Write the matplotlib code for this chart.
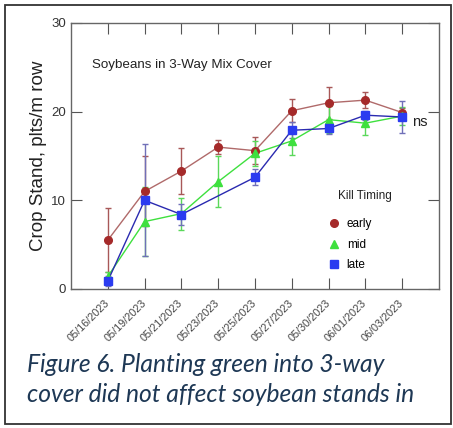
import matplotlib.pyplot as plt
import matplotlib.patches as mpatches
import numpy as np

dates = ["05/16/2023", "05/19/2023", "05/21/2023", "05/23/2023", "05/25/2023",
         "05/27/2023", "05/30/2023", "06/01/2023", "06/03/2023"]

early = [5.5, 11.0, 13.3, 16.0, 15.6, 20.1, 21.0, 21.3, 19.9]
early_err = [3.6, 3.95, 2.55, 0.8, 1.5, 1.3, 1.8, 0.9, 0.5]

mid = [1.4, 7.6, 8.5, 12.1, 15.3, 16.7, 19.1, 18.7, 19.5]
mid_err = [0.5, 3.9, 1.8, 2.9, 1.4, 1.6, 1.5, 1.3, 1.0]

# no late value plotted on 05/23
late = [0.9, 10.0, 8.4, np.nan, 12.6, 17.9, 18.1, 19.6, 19.4]
late_err = [0.6, 6.3, 1.15, np.nan, 0.9, 0.9, 0.6, 0.5, 1.8]

plt.rcParams['font.family'] = ['Liberation Sans', 'DejaVu Sans']

fig = plt.figure(figsize=(4.53, 4.28), dpi=100)
ax = fig.add_axes([0.1567, 0.3248, 0.8123, 0.6215])

x = np.arange(1, len(dates) + 1)

series = [
    ("early", early, early_err, "o", "#a52a2a", "#b06a6a", "#a85858", 5.5),
    ("mid", mid, mid_err, "^", "#3ee03e", "#3ee03e", "#5ad85a", 6),
    ("late", late, late_err, "s", "#2b3cf0", "#2a2ab0", "#7070b8", 6),
]

handles = []
for name, vals, errs, mk, mcol, lcol, ecol, ms in series:
    v = np.array(vals, dtype=float)
    e = np.array(errs, dtype=float)
    ok = ~np.isnan(v)
    ax.errorbar(x[ok], v[ok], yerr=e[ok], fmt="none", ecolor=ecol,
                elinewidth=1.0, capsize=2.5, capthick=1.0, zorder=2)
    ax.plot(x[ok], v[ok], color=lcol, lw=1.0, zorder=3)
    h, = ax.plot(x[ok], v[ok], ls="none", marker=mk, ms=ms, mfc=mcol,
                 mec=mcol, zorder=4, label=name)
    handles.append(h)

ax.set_xlim(0, 10)
ax.set_ylim(0, 30)
ax.set_yticks([0, 10, 20, 30])
ax.set_xticks(x)
ax.set_xticklabels(dates, rotation=45, ha="right", va="center",
                   rotation_mode="anchor", fontsize=7.8, color="#444444")
ax.tick_params(axis="x", direction="in", length=8, top=True, pad=9,
               color="#555555")
ax.tick_params(axis="y", direction="in", length=8, right=True,
               labelsize=9.5, color="#555555", labelcolor="#333333")
for sp in ax.spines.values():
    sp.set_color("#666666")
    sp.set_linewidth(1.0)

ax.set_ylabel("Crop Stand, plts/m row", fontsize=13.5, color="#222222",
              labelpad=3)

ax.text(0.058, 0.83, "Soybeans in 3-Way Mix Cover", transform=ax.transAxes,
        fontsize=9.6, color="#222222")
ax.text(9.28, 18.8, "ns", fontsize=10.5, color="#222222", va="center")

ax.text(7.25, 10.5, "Kill Timing", fontsize=8.5, color="#222222",
        va="center")
leg = ax.legend(handles=handles, loc="upper left",
                bbox_to_anchor=(0.669, 0.305), frameon=False, fontsize=8.5,
                handlelength=1.0, handletextpad=0.6, labelspacing=0.7,
                borderpad=0.4)

fig.text(0.06, 1 - 364 / 428, "Figure 6. Planting green into 3-way",
         fontsize=17.7, style="italic", color="#1e3855",
         family=["Lato", "DejaVu Sans"], va="center")
fig.text(0.06, 1 - 394 / 428, "cover did not affect soybean stands in",
         fontsize=17.7, style="italic", color="#1e3855",
         family=["Lato", "DejaVu Sans"], va="center")

border = mpatches.Rectangle((5 / 453, 4 / 428), 446 / 453, 419 / 428,
                            transform=fig.transFigure, fill=False,
                            edgecolor="#333333", lw=1.3)
fig.patches.append(border)

fig.savefig("out.png", dpi=100)
